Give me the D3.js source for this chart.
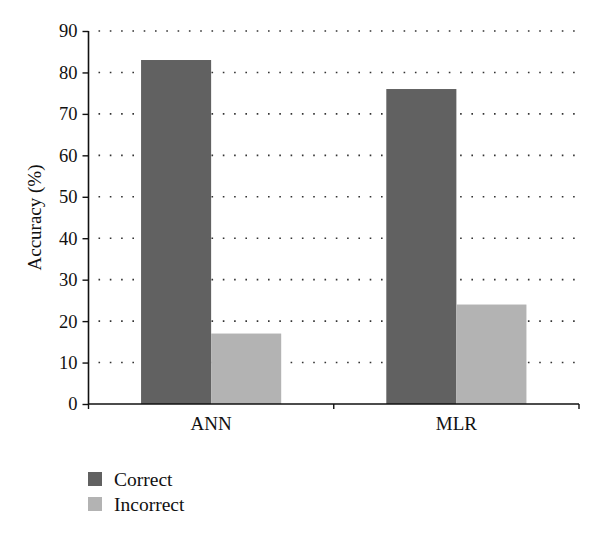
<!DOCTYPE html>
<html>
<head>
<meta charset="utf-8">
<script src="https://cdn.jsdelivr.net/npm/d3@7"></script>
<style>
  body { margin: 0; background: #fff; }
  text { font-family: "Liberation Serif", "DejaVu Serif", serif; fill: #111; }
</style>
</head>
<body>
<div id="chart"></div>
<script>
// -------------------- Data --------------------
const categories = ["ANN", "MLR"];
const seriesNames = ["Correct", "Incorrect"];
const correctValues = [83, 76];
const incorrectValues = [17, 24];
const yTicks = [0, 10, 20, 30, 40, 50, 60, 70, 80, 90];
const colors = ["#616161", "#b3b3b3"];

const rows = categories.map((c, i) => ({ cat: c, values: [correctValues[i], incorrectValues[i]] }));

// -------------------- SVG container --------------------
const width = 600, height = 538;
const margin = { left: 88.5, right: 21, top: 31, bottom: 134 };
const svg = d3.select("#chart").append("svg")
  .attr("width", width)
  .attr("height", height);

const x = d3.scaleBand()
  .domain(categories)
  .range([margin.left, width - margin.right])
  .paddingInner(0)
  .paddingOuter(0);

const xInner = d3.scaleBand()
  .domain(seriesNames)
  .range([0, x.bandwidth()])
  .paddingOuter(0.75)
  .paddingInner(0);

const y = d3.scaleLinear()
  .domain([0, 90])
  .range([height - margin.bottom, margin.top]);

// -------------------- Grid --------------------
svg.append("g")
  .selectAll("line")
  .data(yTicks.filter(d => d > 0))
  .join("line")
  .attr("x1", margin.left + 10)
  .attr("x2", width - margin.right - 4)
  .attr("y1", d => y(d))
  .attr("y2", d => y(d))
  .attr("stroke", "#333")
  .attr("stroke-width", 1.6)
  .attr("stroke-dasharray", "1.6,9.7");

// -------------------- Bars --------------------
svg.append("g")
  .selectAll("g")
  .data(rows)
  .join("g")
  .attr("transform", d => `translate(${x(d.cat)},0)`)
  .selectAll("rect")
  .data(d => d.values.map((v, i) => ({ key: seriesNames[i], value: v, i })))
  .join("rect")
  .attr("x", d => xInner(d.key))
  .attr("width", xInner.bandwidth())
  .attr("y", d => y(d.value))
  .attr("height", d => y(0) - y(d.value))
  .attr("fill", d => colors[d.i]);

// -------------------- Axes --------------------
const yAxis = svg.append("g")
  .attr("transform", `translate(${margin.left},0)`)
  .call(d3.axisLeft(y).tickValues(yTicks).tickSize(6).tickPadding(5));
yAxis.select(".domain").attr("stroke", "#111").attr("stroke-width", 1.6).attr("d", `M0,${y(0)}V${y(90)}`);
yAxis.selectAll(".tick line").attr("stroke", "#111").attr("stroke-width", 1.4);
yAxis.selectAll("text").style("font-size", "18.5px").attr("fill", "#111");

const xAxisG = svg.append("g").attr("transform", `translate(0,${y(0)})`);
xAxisG.append("line")
  .attr("x1", margin.left).attr("x2", width - margin.right)
  .attr("stroke", "#111").attr("stroke-width", 1.6);
const tickXs = categories.map(c => x(c)).concat([x(categories[categories.length - 1]) + x.bandwidth()]);
xAxisG.selectAll(".xt")
  .data(tickXs)
  .join("line")
  .attr("x1", d => d).attr("x2", d => d)
  .attr("y1", 0).attr("y2", 5)
  .attr("stroke", "#111").attr("stroke-width", 1.4);
xAxisG.selectAll("text")
  .data(categories)
  .join("text")
  .attr("x", d => x(d) + x.bandwidth() / 2)
  .attr("y", 26)
  .attr("text-anchor", "middle")
  .style("font-size", "19px")
  .text(d => d);

// Y label
svg.append("text")
  .attr("transform", `translate(41,${(y(0) + y(90)) / 2}) rotate(-90)`)
  .attr("text-anchor", "middle")
  .style("font-size", "19px")
  .text("Accuracy (%)");

// -------------------- Legend --------------------
const legend = svg.append("g")
  .selectAll("g")
  .data(seriesNames)
  .join("g")
  .attr("transform", (d, i) => `translate(88,${472 + i * 25})`);
legend.append("rect")
  .attr("width", 14).attr("height", 14)
  .attr("fill", (d, i) => colors[i]);
legend.append("text")
  .attr("x", 26).attr("y", 14)
  .style("font-size", "19.5px")
  .text(d => d);
</script>
</body>
</html>
